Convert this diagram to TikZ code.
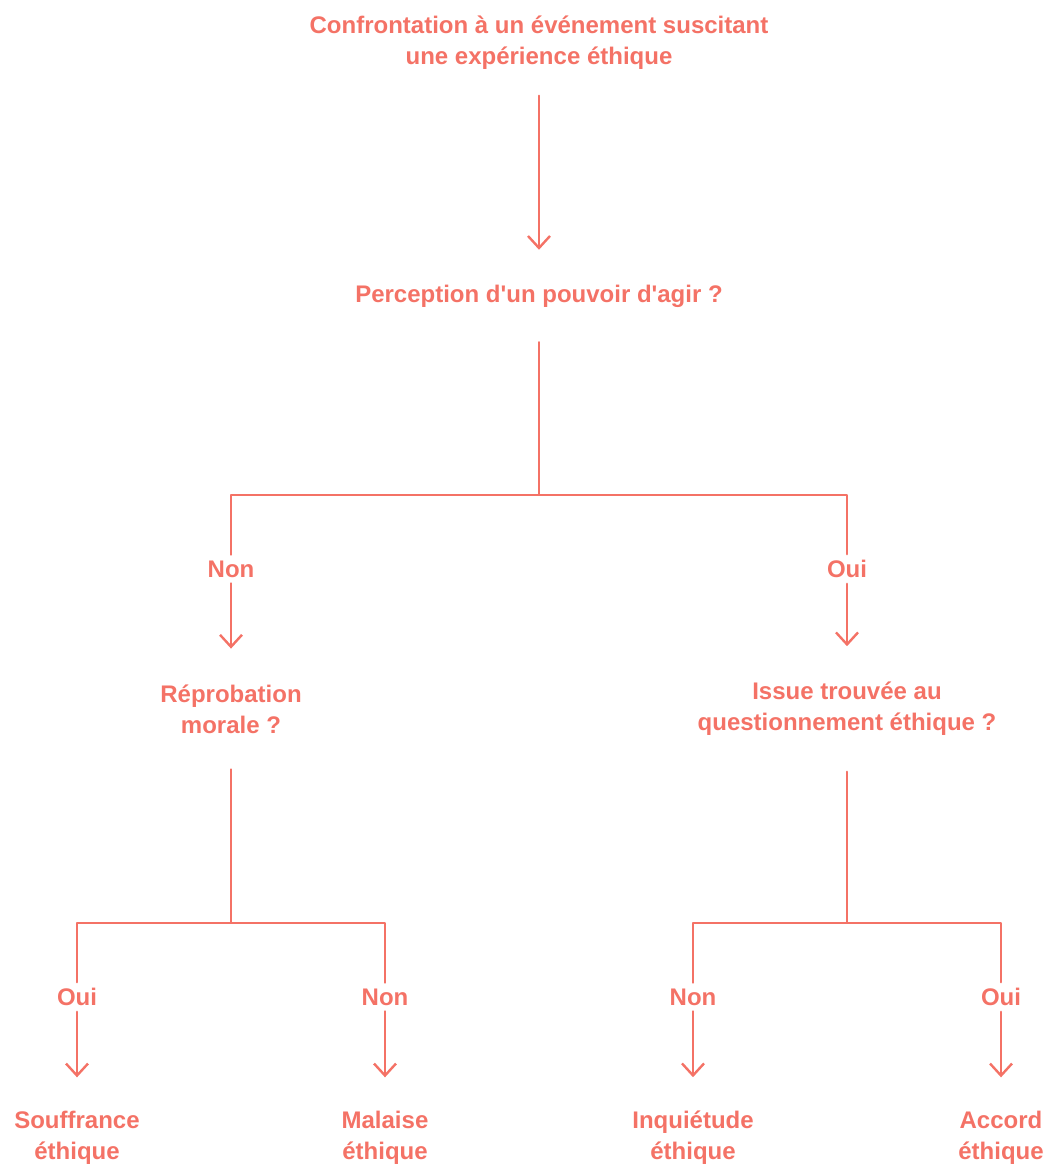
\documentclass[tikz,border=0pt]{standalone}
\usepackage{fontspec}
\setmainfont{Liberation Sans}
\usetikzlibrary{arrows.meta}
\definecolor{saumon}{RGB}{244,114,102}
\begin{document}
\begin{tikzpicture}[x=1pt,y=-1pt,>={Straight Barb[length=12pt,width=22pt,line width=2.4pt]},
	line join=round,line cap=round,
	q/.style={text=saumon,font=\fontsize{24}{31}\selectfont\bfseries,align=center,inner sep=0pt,outer ysep=34pt},
	rep/.style={q,outer ysep=6pt},
	conn/.style={draw=saumon,line width=2.4pt},
	arr/.style={conn,->}]
	\useasboundingbox (0,0) rectangle (1048,1166);
	% noeuds
	\node[q,outer ysep=26pt] (root) at (539,43) {Confrontation à un événement suscitant\\une expérience éthique};
	\node[q,outer ysep=35pt] (perc) at (539,296) {Perception d\textquotesingle un pouvoir d\textquotesingle agir ?};
	\node[rep] (non1) at (231,569) {Non};
	\node[rep] (oui1) at (847,569) {Oui};
	\node[q,outer ysep=36pt] (repro) at (231,709) {Réprobation\\morale ?};
	\node[q,outer ysep=36pt] (issue) at (847,709) {Issue trouvée au\\questionnement éthique ?};
	\node[rep] (ouiA) at (77,997) {Oui};
	\node[rep] (nonA) at (385,997) {Non};
	\node[rep] (nonB) at (693,997) {Non};
	\node[rep] (ouiB) at (1001,997) {Oui};
	\node[q] (souf) at (77,1138) {Souffrance\\éthique};
	\node[q] (mal) at (385,1138) {Malaise\\éthique};
	\node[q] (inq) at (693,1138) {Inquiétude\\éthique};
	\node[q] (acc) at (1001,1138) {Accord\\éthique};
	\coordinate (j1) at (539,495);
	\coordinate (j2) at (231,923);
	\coordinate (j3) at (847,923);
	% liens
	\draw[arr] (root) -- (perc);
	\draw[conn] (perc) -- (j1) -| (non1);
	\draw[conn] (j1) -| (oui1);
	\draw[arr] (non1) -- (repro);
	\draw[arr] (oui1) -- (issue);
	\draw[conn] (repro) -- (j2) -| (ouiA);
	\draw[conn] (j2) -| (nonA);
	\draw[conn] (issue) -- (j3) -| (nonB);
	\draw[conn] (j3) -| (ouiB);
	\draw[arr] (ouiA) -- (souf);
	\draw[arr] (nonA) -- (mal);
	\draw[arr] (nonB) -- (inq);
	\draw[arr] (ouiB) -- (acc);
\end{tikzpicture}
\end{document}
